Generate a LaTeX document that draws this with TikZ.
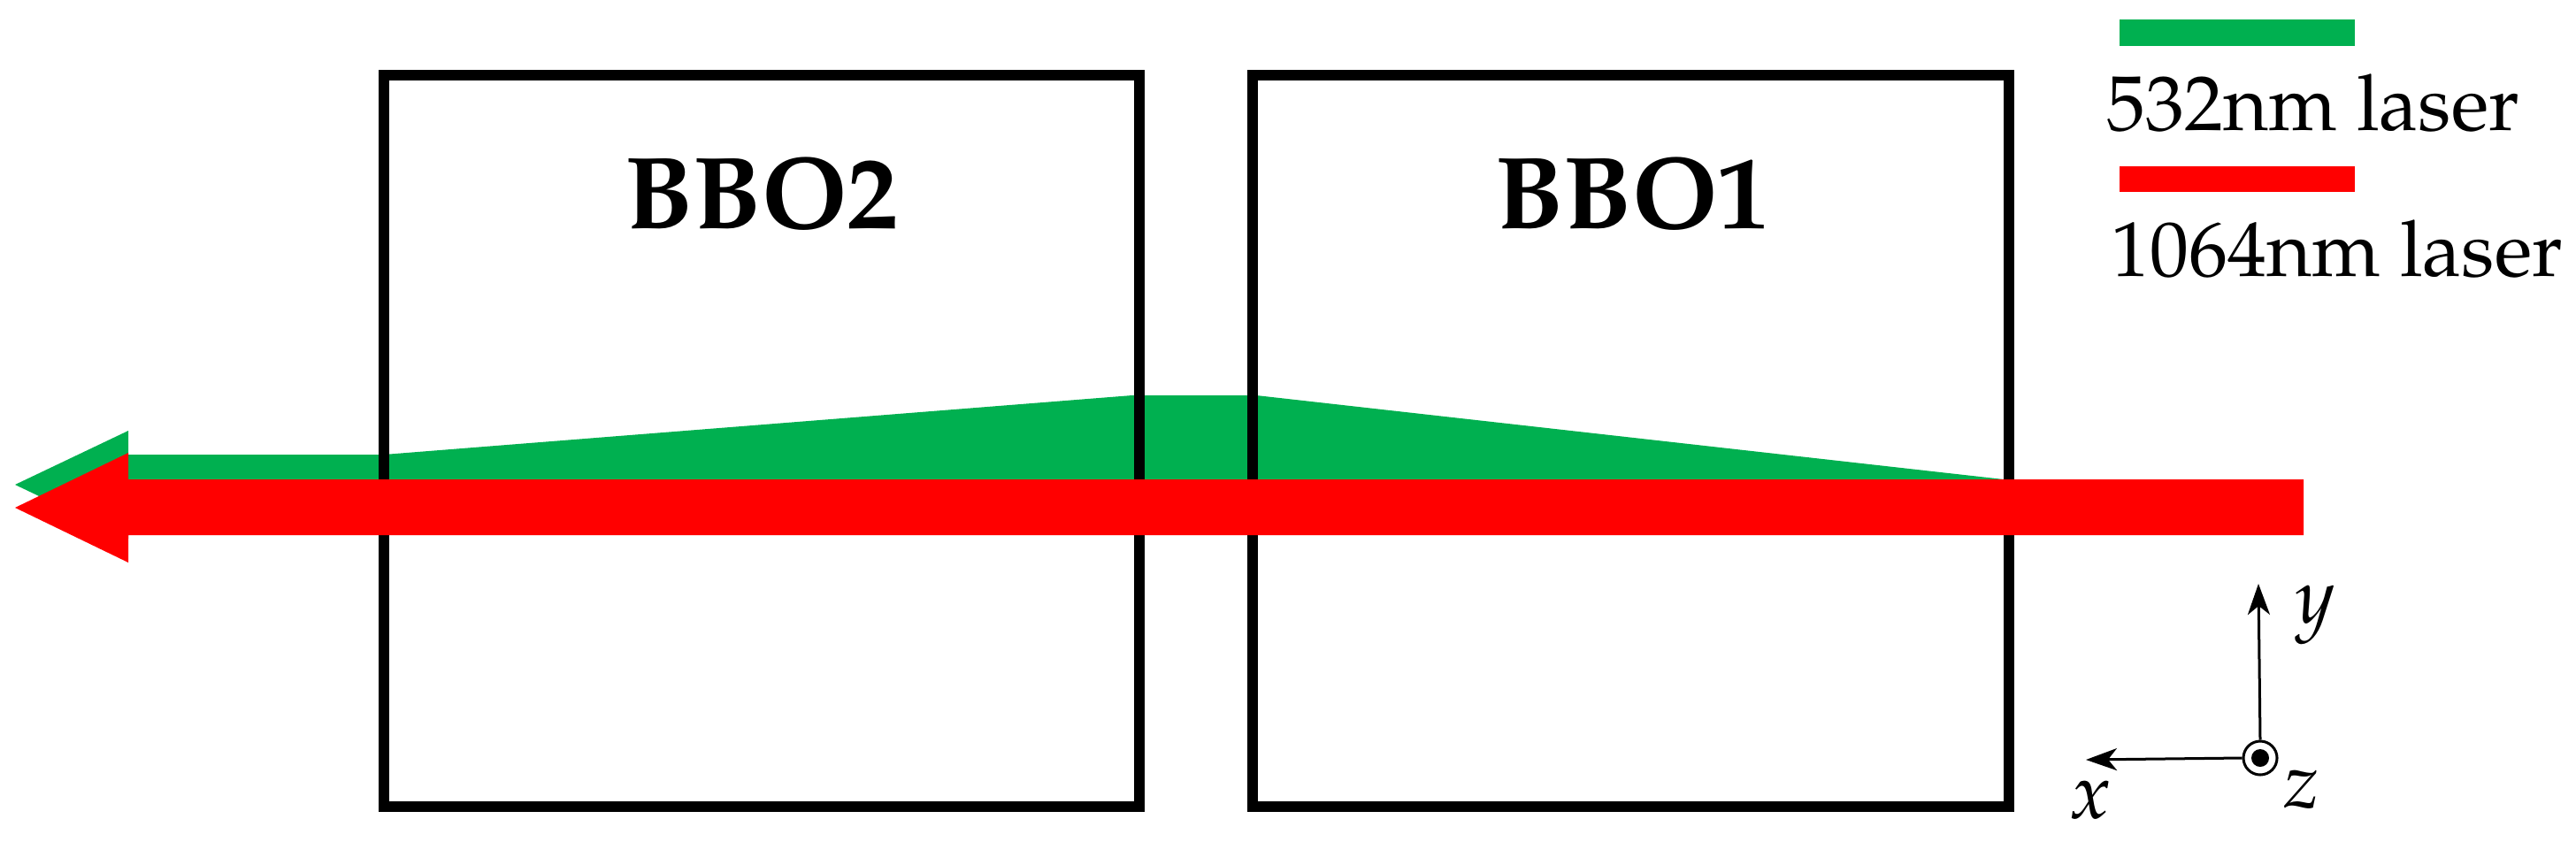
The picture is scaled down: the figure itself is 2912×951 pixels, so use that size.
\documentclass[tikz,border=0pt]{standalone}
\usepackage[T1]{fontenc}
\usepackage{mathpazo}
\usetikzlibrary{arrows.meta}
\definecolor{beamgreen}{HTML}{00B050}
\definecolor{beamred}{HTML}{FF0000}
\tikzset{
  crystal/.style={draw=black, line width=0.12cm, minimum width=8.54cm, minimum height=8.27cm, inner sep=0pt},
  crystallabel/.style={anchor=base, inner sep=0pt, font=\fontsize{33}{40}\selectfont\bfseries},
  legendtext/.style={anchor=base west, inner sep=0pt, font=\fontsize{25}{30}\selectfont},
  axislabel/.style={anchor=base, inner sep=0pt, font=\fontsize{25}{30}\selectfont},
  axisline/.style={line width=0.03cm, -{Stealth[length=0.35cm, width=0.25cm, inset=0.1cm]}},
}
\begin{document}
\begin{tikzpicture}[x=0.01cm, y=-0.01cm]
\useasboundingbox (0,0) rectangle (2912,951);
% green beam
\fill[beamgreen] (17,548) -- (145,487) -- (145,514) -- (434,514) -- (1280,447) -- (1420,447)
  -- (2265,542) -- (2265,570) -- (145,570) -- (145,609) -- cycle;
% crystals
\node[crystal] (bbo2) at (861,498.5) {};
\node[crystal] (bbo1) at (1843.5,498.5) {};
\node[crystallabel] (l2) at (861,258) {BBO2};
\node[crystallabel] (l1) at (1845,258) {BBO1};
% red beam
\fill[beamred] (17,574) -- (145,512) -- (145,542) -- (2604,542) -- (2604,605) -- (145,605) -- (145,636) -- cycle;
% legend
\fill[beamgreen] (2396,22) rectangle (2662,52);
\node[legendtext] (lg) at (2381,147) {532nm laser};
\fill[beamred] (2396,188) rectangle (2662,217);
\node[legendtext] (lr) at (2386,312) {1064nm laser};
% axes
\node[draw, circle, line width=0.03cm, minimum size=0.38cm, inner sep=0pt] (o) at (2555,857) {};
\fill (o.center) circle (0.1cm);
\coordinate (ytip) at (2553,660);
\coordinate (xtip) at (2358,859);
\draw[axisline] (o.north) -- (ytip);
\draw[axisline] (o.west) -- (xtip);
\node[axislabel] (ly) at (2617,704) {$y$};
\node[axislabel] (lx) at (2363,925) {$x$};
\node[axislabel] (lz) at (2602,913) {$z$};
\end{tikzpicture}
\end{document}
